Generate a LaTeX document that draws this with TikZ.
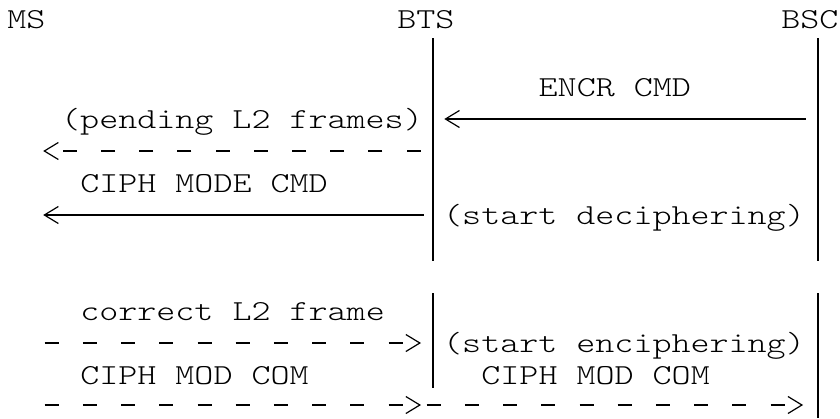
\documentclass[tikz,border=0pt]{standalone}
\usepackage{fontspec}
\setmonofont[Extension=.otf, FakeStretch=1.25]{lmmonolt10-regular}
\usetikzlibrary{arrows.meta}
\tikzset{
    lbl/.style={anchor=base west, inner sep=0pt, font=\ttfamily\fontsize{14.5}{16}\selectfont},
    lifeline/.style={line width=1pt},
    msg/.style={line width=1pt, -{Straight Barb[length=7pt, width=8.5pt, line width=0.6pt] .}},
    pend/.style={msg, line width=1.3pt, dash pattern=on 7pt off 12.1pt}
}
\begin{document}
\begin{tikzpicture}[x=0.5pt, y=-0.5pt]
        \useasboundingbox (0, 0) rectangle (840, 418);

        \node[lbl] (ms) at (7, 28.5) {MS};
        \node[lbl] (bts) at (397, 28.5) {BTS};
        \node[lbl] (bsc) at (781, 28.5) {BSC};

        % lifelines
        \coordinate (bts-a) at (433, 38);
        \coordinate (bts-b) at (433, 261);
        \coordinate (bts-c) at (433, 293);
        \coordinate (bts-d) at (433, 388);
        \coordinate (bsc-a) at (818, 38);
        \coordinate (bsc-b) at (818, 261);
        \coordinate (bsc-c) at (818, 293);
        \coordinate (bsc-d) at (818, 418);
        \draw[lifeline] (bts-a) -- (bts-b);
        \draw[lifeline] (bts-c) -- (bts-d);
        \draw[lifeline] (bsc-a) -- (bsc-b);
        \draw[lifeline] (bsc-c) -- (bsc-d);

        \node[lbl] (encr) at (538.3, 96) {ENCR CMD};
        \node[lbl] (pending) at (60.8, 128) {(pending L2 frames)};
        \node[lbl] (ciphcmd) at (79.9, 192) {CIPH MODE CMD};
        \node[lbl] (decipher) at (442.8, 224) {(start deciphering)};
        \node[lbl] (correct) at (79.9, 320) {correct L2 frame};
        \node[lbl] (encipher) at (442.8, 352) {(start enciphering)};
        \node[lbl] (ciphcom1) at (79.9, 384) {CIPH MOD COM};
        \node[lbl] (ciphcom2) at (481, 384) {CIPH MOD COM};

        % messages
        \coordinate (bsc-1) at (805.7, 119);
        \coordinate (bts-1) at (444.3, 119);
        \coordinate (bts-2) at (420.6, 151);
        \coordinate (ms-2) at (43.2, 151);
        \coordinate (bts-3) at (423.7, 215);
        \coordinate (ms-3) at (43.2, 215);
        \coordinate (ms-4) at (44.7, 343);
        \coordinate (bts-4) at (421, 343);
        \coordinate (ms-5) at (44.7, 405);
        \coordinate (bts-5) at (421, 405);
        \coordinate (bts-6) at (426.7, 405);
        \coordinate (bsc-6) at (803.1, 405);
        \draw[msg] (bsc-1) -- (bts-1);
        \draw[pend] (bts-2) -- (ms-2);
        \draw[msg] (bts-3) -- (ms-3);
        \draw[pend] (ms-4) -- (bts-4);
        \draw[pend] (ms-5) -- (bts-5);
        \draw[pend] (bts-6) -- (bsc-6);
\end{tikzpicture}
\end{document}
